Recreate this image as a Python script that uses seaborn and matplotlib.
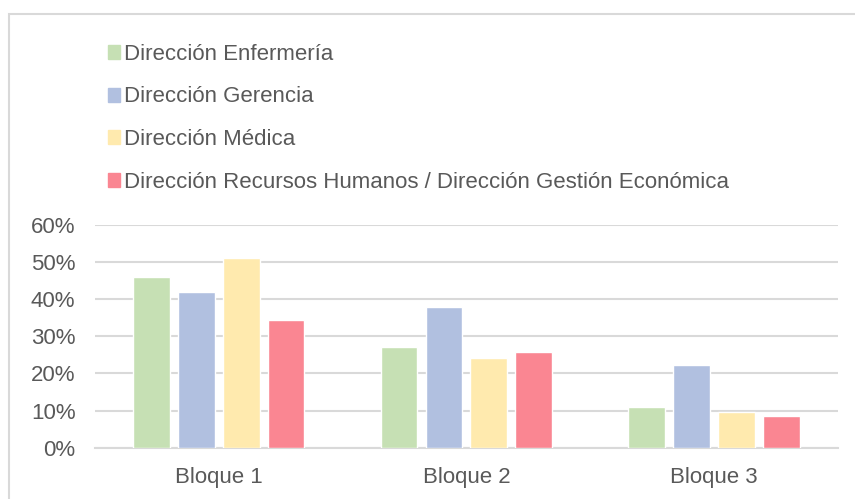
import matplotlib
matplotlib.use("Agg")
import matplotlib.pyplot as plt
import matplotlib.patches as mpatches
import seaborn as sns
import pandas as pd
from matplotlib.ticker import PercentFormatter

# data
bloques = ["Bloque 1", "Bloque 2", "Bloque 3"]
series = [
    "Dirección Enfermería",
    "Dirección Gerencia",
    "Dirección Médica",
    "Dirección Recursos Humanos / Dirección Gestión Económica",
]
enfermeria = [0.46, 0.27, 0.109]
gerencia = [0.42, 0.379, 0.224]
medica = [0.511, 0.242, 0.097]
rrhh_economica = [0.345, 0.259, 0.085]
colors = ["#C6E0B4", "#B1C0E0", "#FFEAAE", "#FA8692"]

rows = []
for name, vals in zip(series, [enfermeria, gerencia, medica, rrhh_economica]):
    for b, v in zip(bloques, vals):
        rows.append({"bloque": b, "serie": name, "valor": v})
df = pd.DataFrame(rows)

sns.set_style("white")
plt.rcParams["font.family"] = ["Liberation Sans", "DejaVu Sans"]
text_color = "#595959"
grid_color = "#D9D9D9"
fs = 16

fig = plt.figure(figsize=(8.55, 4.99), dpi=100)
ax = fig.add_axes([0.111, 0.103, 0.869, 0.446])

sns.barplot(data=df, x="bloque", y="valor", hue="serie", hue_order=series,
            palette=colors, width=0.725, gap=0.18, ax=ax, legend=False,
            saturation=1, zorder=3)

ax.set_ylim(0, 0.6)
ax.set_xlim(-0.5, 2.5)
ax.set_yticks([0, 0.1, 0.2, 0.3, 0.4, 0.5, 0.6])
ax.yaxis.set_major_formatter(PercentFormatter(1.0, decimals=0))
ax.yaxis.grid(True, color=grid_color, linewidth=1.5, zorder=0)
ax.set_axisbelow(True)
for side in ["left", "right", "top"]:
    ax.spines[side].set_visible(False)
ax.spines["bottom"].set_color(grid_color)
ax.spines["bottom"].set_linewidth(1.5)
ax.set_xlabel("")
ax.set_ylabel("")
ax.tick_params(axis="both", length=0, labelsize=fs, colors=text_color)
ax.tick_params(axis="x", pad=14)
ax.tick_params(axis="y", pad=14)

# legend in the upper-left of the figure
handles = [mpatches.Patch(color=c, label=s) for c, s in zip(colors, series)]
fig.legend(handles=handles, loc="upper left", bbox_to_anchor=(0.126, 0.912),
           frameon=False, fontsize=fs, labelcolor=text_color,
           handlelength=0.55, handleheight=0.6, handletextpad=0.2,
           labelspacing=0.97, borderpad=0, borderaxespad=0)

# light border of the chart area
fig.patches.append(mpatches.Rectangle((9 / 855, -0.1), 1.2, 1.1 - 14 / 499,
                                      transform=fig.transFigure, fill=False,
                                      edgecolor=grid_color, linewidth=1.5))

fig.savefig("out.png", dpi=100)
